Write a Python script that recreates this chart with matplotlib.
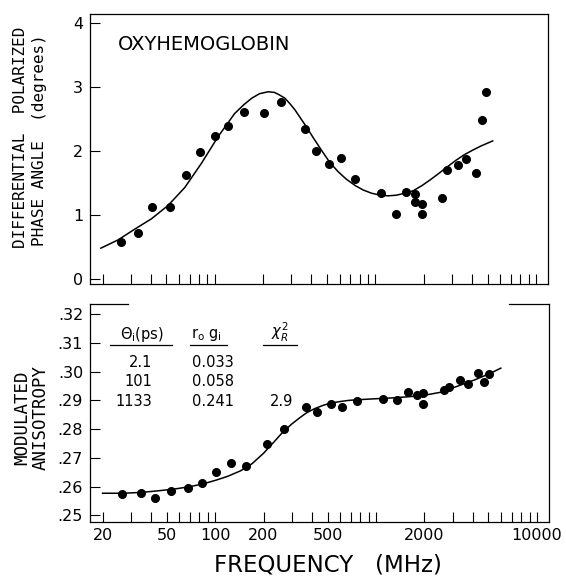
import numpy as np
import matplotlib
matplotlib.use("Agg")
import matplotlib.pyplot as plt
from matplotlib.ticker import FixedLocator, FixedFormatter

# ---- data ----
# top panel: differential polarized phase angle (degrees)
phase_freq = [26.0, 33.3, 40.9, 52.4, 66.6, 81.4, 100, 121, 151, 202, 260,
              362, 424, 518, 610, 752, 1078, 1336, 1546, 1766, 1766, 1964,
              1950, 2596, 2806, 3248, 3652, 4216, 4600, 4874]
phase_deg = [0.58, 0.71, 1.12, 1.12, 1.63, 1.98, 2.24, 2.40, 2.61, 2.60, 2.77,
             2.35, 2.00, 1.80, 1.90, 1.57, 1.35, 1.01, 1.36, 1.33, 1.20, 1.17,
             1.01, 1.27, 1.70, 1.79, 1.87, 1.65, 2.48, 2.93]
phase_fit_freq = [19.5, 25.0, 31.8, 40.3, 51.2, 65.0, 82.6, 105, 133, 152, 170, 190,
                  215, 235, 253, 273, 292, 315, 337, 370, 408, 460, 518, 585, 660,
                  750, 842, 950, 1075, 1200, 1353, 1520, 1722, 1950, 2195, 2480,
                  2794, 3150, 3560, 4000, 4540, 5380]
phase_fit_deg = [0.48, 0.61, 0.78, 0.94, 1.15, 1.43, 1.81, 2.23, 2.59, 2.73, 2.83, 2.90,
                 2.93, 2.92, 2.88, 2.83, 2.75, 2.65, 2.54, 2.39, 2.22, 2.02, 1.83, 1.68, 1.56,
                 1.46, 1.39, 1.34, 1.31, 1.30, 1.31, 1.34, 1.38, 1.46, 1.55, 1.65,
                 1.75, 1.85, 1.94, 2.01, 2.08, 2.16]

# bottom panel: modulated anisotropy
aniso_freq = [26.5, 34.5, 42.3, 53.2, 68.2, 83.3, 102, 125, 155, 210, 270,
              368, 432, 526, 618, 764, 1110, 1352, 1572, 1788, 1970, 1970,
              2636, 2852, 3314, 3720, 4300, 4720, 5020]
aniso_val = [.2575, .2579, .2560, .2585, .2594, .2614, .2650, .2681, .2670, .2747, .2801,
             .2878, .2861, .2887, .2878, .2896, .2905, .2902, .2928, .2919, .2925, .2888,
             .2936, .2948, .2971, .2956, .2994, .2965, .2991]
aniso_fit_freq = [20, 26.8, 35, 43.4, 55, 69.9, 85, 102, 120, 144, 170, 200, 232, 265,
                  300, 337, 371, 415, 471, 530, 601, 680, 764, 950, 1223, 1550, 1970,
                  2515, 3165, 4100, 5134, 5970]
aniso_fit_val = [.2577, .2577, .2580, .2585, .2591, .2600, .2610, .2623, .2636, .2655,
                 .2680, .2716, .2755, .2791, .2818, .2840, .2857, .2871, .2883, .2891,
                 .2896, .2900, .2902, .2905, .2908, .2912, .2917,
                 .2928, .2948, .2971, .2994, .3012]

# fit parameters table
theta_ps = ['2.1', '101', '1133']
r0_g = ['0.033', '0.058', '0.241']
chi2_r = ['', '', '2.9']

x_ticks = [20, 30, 40, 50, 60, 70, 80, 90, 100, 200, 300, 400, 500, 600, 700, 800, 900,
           1000, 2000, 3000, 4000, 5000, 6000, 7000, 8000, 9000, 10000]
x_labels = {20: '20', 50: '50', 100: '100', 200: '200', 500: '500', 2000: '2000', 10000: '10000'}
top_yticks = [0, 1, 2, 3, 4]
bot_yticks = [.25, .26, .27, .28, .29, .30, .31, .32]
bot_ylabels = ['.25', '.26', '.27', '.28', '.29', '.30', '.31', '.32']

plt.rcParams['font.family'] = 'DejaVu Sans'
plt.rcParams['mathtext.fontset'] = 'dejavusans'

W, H = 566, 578
fig = plt.figure(figsize=(W / 100, H / 100), dpi=100)
ax1 = fig.add_axes([90 / W, 1 - 284 / H, 458 / W, 270 / H])
ax2 = fig.add_axes([90 / W, 1 - 522 / H, 459 / W, 218 / H])

for ax in (ax1, ax2):
    ax.set_xscale('log')
    ax.set_xlim(16.7, 11890)
    ax.xaxis.set_major_locator(FixedLocator(x_ticks))
    ax.xaxis.set_minor_locator(FixedLocator([]))
    ax.tick_params(axis='both', direction='in', length=7, width=0.8,
                   labelsize=11.5, top=False, right=False)
    ax.tick_params(axis='y', pad=5)
    ax.tick_params(axis='x', pad=4)
    for s in ax.spines.values():
        s.set_linewidth(0.9)

# top panel
ax1.plot(phase_fit_freq, phase_fit_deg, color='black', lw=1.1)
ax1.plot(phase_freq, phase_deg, 'o', color='black', ms=5.5)
ax1.set_ylim(-0.081, 4.148)
ax1.yaxis.set_major_locator(FixedLocator(top_yticks))
ax1.set_yticklabels([str(v) for v in top_yticks])
ax1.xaxis.set_major_formatter(FixedFormatter([''] * len(x_ticks)))
ax1.text(118 / W, 1 - 45 / H, 'OXYHEMOGLOBIN', transform=fig.transFigure,
         fontsize=14, ha='left', va='center')

# bottom panel
ax2.plot(aniso_fit_freq, aniso_fit_val, color='black', lw=1.1)
ax2.plot(aniso_freq, aniso_val, 'o', color='black', ms=5.5)
ax2.set_ylim(.2477, .3235)
ax2.yaxis.set_major_locator(FixedLocator(bot_yticks))
ax2.yaxis.set_major_formatter(FixedFormatter(bot_ylabels))
ax2.xaxis.set_major_formatter(FixedFormatter([x_labels.get(t, '') for t in x_ticks]))

# broken top frame of the lower panel
ax2.spines['top'].set_visible(False)
ax2.plot([0, 0.083], [1, 1], transform=ax2.transAxes, color='black', lw=0.9, clip_on=False)
ax2.plot([0.913, 1], [1, 1], transform=ax2.transAxes, color='black', lw=0.9, clip_on=False)

# table of fit parameters
fs = 10.5
ax2.text(0.114, 0.858, r'$\Theta_{\mathrm{i}}$(ps)', transform=ax2.transAxes,
         fontsize=fs, ha='center', va='center')
ax2.text(0.254, 0.858, r'r$_{\mathrm{o}}$ g$_{\mathrm{i}}$', transform=ax2.transAxes,
         fontsize=fs, ha='center', va='center')
ax2.text(0.414, 0.870, r'$\chi^{2}_{R}$', transform=ax2.transAxes,
         fontsize=fs, ha='center', va='center')
for x0, x1, y in [(0.0436, 0.178, 0.812), (0.218, 0.298, 0.812), (0.377, 0.450, 0.812)]:
    ax2.plot([x0, x1], [y, y], transform=ax2.transAxes, color='black', lw=0.9)
row_y = [0.731, 0.644, 0.552]
for i in range(3):
    ax2.text(0.135, row_y[i], theta_ps[i], transform=ax2.transAxes,
             fontsize=fs, ha='right', va='center')
    ax2.text(0.2216, row_y[i], r0_g[i], transform=ax2.transAxes,
             fontsize=fs, ha='left', va='center')
    ax2.text(0.392, row_y[i], chi2_r[i], transform=ax2.transAxes,
             fontsize=fs, ha='left', va='center')

# axis titles
mono = 'DejaVu Sans Mono'
fig.text(21 / W, 1 - 137.5 / H, 'DIFFERENTIAL  POLARIZED', rotation=90,
         ha='center', va='center', family=mono, fontsize=11.5)
fig.text(40 / W, 1 - 140 / H, 'PHASE ANGLE  (degrees)', rotation=90,
         ha='center', va='center', family=mono, fontsize=11.5)
fig.text(22 / W, 1 - 418 / H, 'MODULATED', rotation=90,
         ha='center', va='center', family=mono, fontsize=12.5)
fig.text(41 / W, 1 - 418 / H, 'ANISOTROPY', rotation=90,
         ha='center', va='center', family=mono, fontsize=12.5)
fig.text(328 / W, 1 - 571 / H, 'FREQUENCY   (MHz)', ha='center', va='baseline',
         fontsize=16.5)

fig.savefig('out.png', dpi=100)
